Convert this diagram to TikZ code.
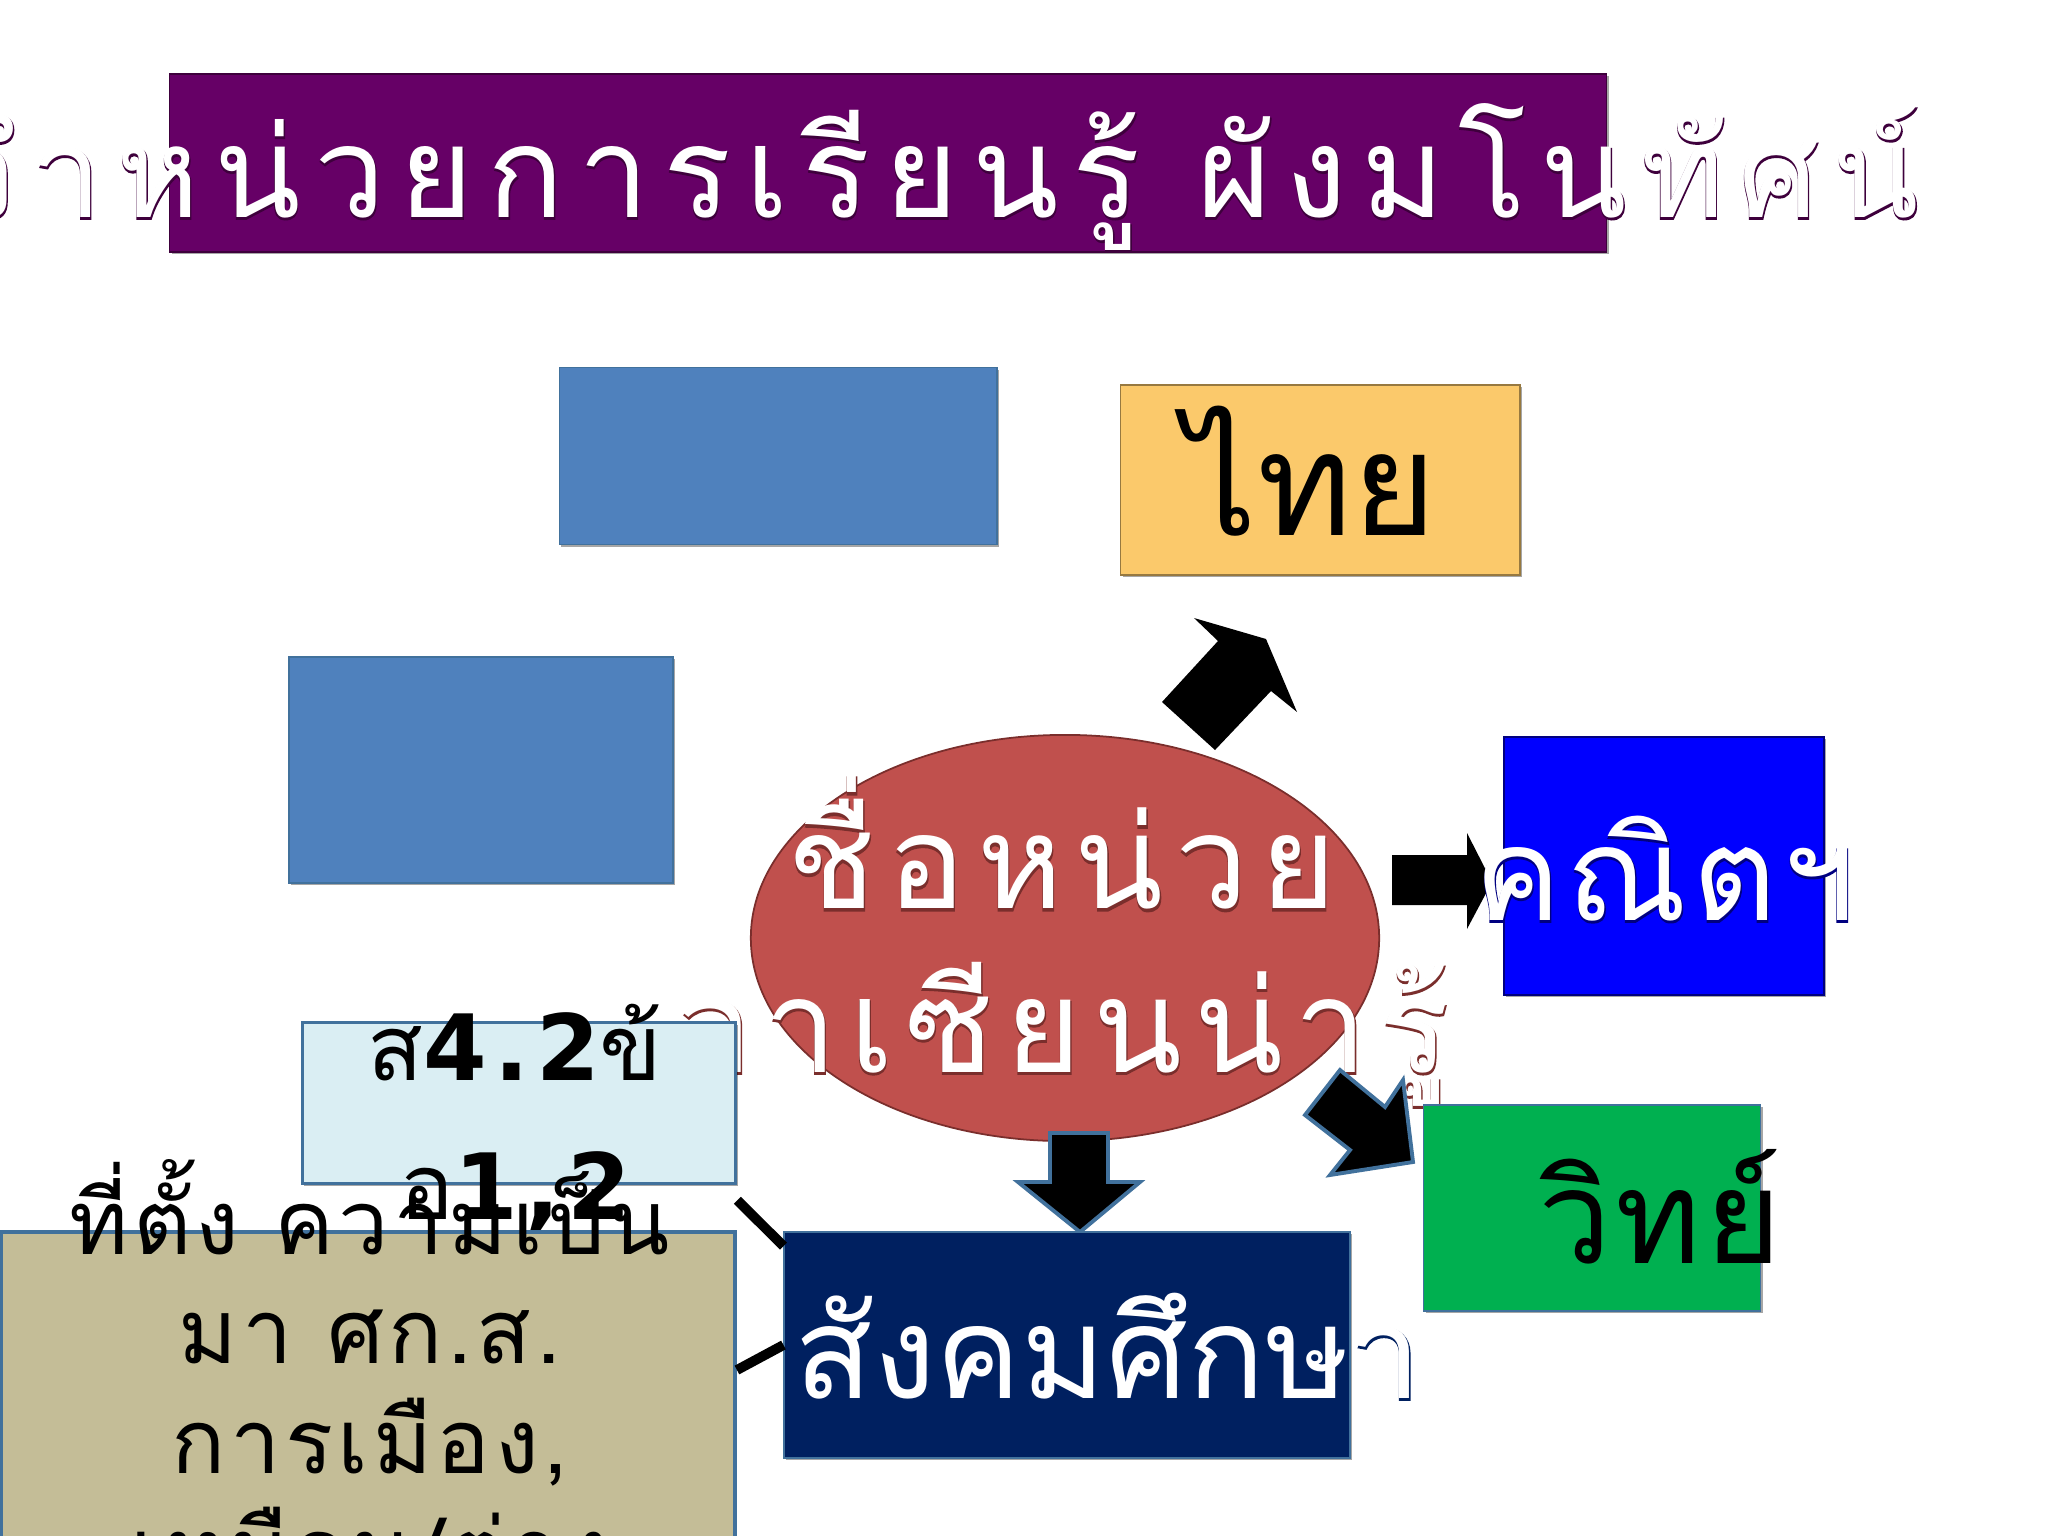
\documentclass[tikz,border=0pt]{standalone}
\usepackage{fontspec}
\newfontfamily\thai[Script=Thai]{Loma}
\newfontfamily\thaish[Script=Thai,FakeBold=1.2]{Loma}
\newfontfamily\digits{DejaVu Sans}
\usetikzlibrary{shapes.geometric,shadows}

\definecolor{plum}{HTML}{660066}
\definecolor{plumdark}{HTML}{3E003C}
\definecolor{steel}{HTML}{4F81BD}
\definecolor{steeledge}{HTML}{41719C}
\definecolor{sand}{HTML}{FBC96B}
\definecolor{brick}{HTML}{C0504D}
\definecolor{brickdark}{HTML}{7A2E2C}
\definecolor{pureblue}{HTML}{0000FF}
\definecolor{bluedark}{HTML}{000080}
\definecolor{leaf}{HTML}{00B050}
\definecolor{navy}{HTML}{002060}
\definecolor{ice}{HTML}{DAEEF3}
\definecolor{khaki}{HTML}{C4BD97}

\tikzset{
  box/.style={draw=#1, line width=0.5pt, inner sep=0pt,
    drop shadow={shadow xshift=0.6pt, shadow yshift=-0.6pt, opacity=0.35, fill=black}},
  txt/.style n args={4}{font=#1\fontsize{#2}{#3}\selectfont\addfontfeature{LetterSpace=#4},
    inner sep=0pt, align=center},
  sh/.style={text=#1, yshift=-0.6pt},
  blockarrow/.style={fill=black, draw=steeledge, line width=1.1pt, line join=miter}
}

\begin{document}
\begin{tikzpicture}[x=0.01cm, y=-0.01cm]
\useasboundingbox (0,0) rectangle (2048,1536);
\clip (0,0) rectangle (2048,1536);
\fill[white] (0,0) rectangle (2048,1536);

% title
\node[box=plumdark, fill=plum, minimum width=14.36cm, minimum height=1.78cm] (titlebox) at (888,163) {};
\node[txt={\thaish}{36pt}{44pt}{11}, sh=plumdark, anchor=base east] (titlesh) at (1920,217) {ประจำหน่วยการเรียนรู้ ผังมโนทัศน์};
\node[txt={\thai}{36pt}{44pt}{11}, text=white, anchor=base east] (title) at (1920,217) {ประจำหน่วยการเรียนรู้ ผังมโนทัศน์};

% empty boxes
\node[box=steeledge, fill=steel, minimum width=4.37cm, minimum height=1.77cm] (boxa) at (778,456) {};
\node[box=steeledge, fill=steel, minimum width=3.84cm, minimum height=2.26cm] (boxb) at (481,770) {};

% thai
\node[box=sand!60!black, fill=sand, minimum width=3.99cm, minimum height=1.90cm] (thaibox) at (1320,480) {};
\node[txt={\thai}{41pt}{48pt}{0}, anchor=base west] (thai) at (1184,535) {ไทย};
\fill (1162,702) -- (1218,641) -- (1194,618) -- (1266,639) -- (1297,712) -- (1271,691) -- (1215,750) -- cycle;

% unit
\node[ellipse, draw=brickdark, line width=0.5pt, fill=brick, minimum width=6.28cm, minimum height=4.06cm, inner sep=0pt] (unit) at (1065,938) {};
\node[txt={\thaish}{37pt}{46.4pt}{9}, sh=brickdark, anchor=base] (unitsh) at (1062,1072) {ชื่อหน่วย\\อาเซียนน่ารู้};
\node[txt={\thai}{37pt}{46.4pt}{9}, text=white, anchor=base] (unittxt) at (1062,1072) {ชื่อหน่วย\\อาเซียนน่ารู้};

% math
\fill (1392,855) -- (1467,855) -- (1467,833) -- (1492,882) -- (1467,929) -- (1467,905) -- (1392,905) -- cycle;
\node[box=bluedark, fill=pureblue, minimum width=3.20cm, minimum height=2.58cm] (mathbox) at (1664,866) {};
\node[txt={\thaish}{37pt}{44pt}{4}, sh=bluedark, anchor=base] (mathsh) at (1665,920) {คณิตฯ};
\node[txt={\thai}{37pt}{44pt}{4}, text=white, anchor=base] (math) at (1665,920) {คณิตฯ};

% science
\node[box=steeledge, fill=leaf, minimum width=3.37cm, minimum height=2.06cm] (scibox) at (1592,1208) {};
\node[txt={\thai}{37pt}{44pt}{3}, anchor=base west] (sci) at (1538,1263) {วิทย์};
\draw[blockarrow] (1305,1115) -- (1340,1070) -- (1385,1107) -- (1403,1080) -- (1413,1162) -- (1330,1175) -- (1350,1150) -- cycle;

% social studies
\draw[blockarrow] (1050,1133) -- (1108,1133) -- (1108,1182) -- (1140,1182) -- (1080,1232) -- (1018,1182) -- (1050,1182) -- cycle;
\node[box=steeledge, fill=navy, minimum width=5.65cm, minimum height=2.26cm] (socbox) at (1067,1345) {};
\node[txt={\thaish}{36.5pt}{44pt}{0}, sh=navy, anchor=base west] (socsh) at (794,1398) {สังคมศึกษา};
\node[txt={\thai}{36.5pt}{44pt}{0}, text=white, anchor=base west] (soc) at (794,1398) {สังคมศึกษา};

% standard
\node[box=steeledge, fill=ice, line width=1pt, minimum width=4.33cm, minimum height=1.61cm] (stdbox) at (519,1103) {};
\node[txt={\thai}{26pt}{39.5pt}{8}, anchor=base] (std) at (515,1219) {ส{\digits\bfseries\addfontfeature{LetterSpace=8}4.2}ข้\\อ{\digits\bfseries\addfontfeature{LetterSpace=8}1,2}};

% content
\node[box=steeledge, fill=khaki, line width=1pt, minimum width=7.34cm, minimum height=3.20cm] (topicbox) at (368,1392) {};
\node[txt={\thai}{25.5pt}{31pt}{5}, anchor=base] (topic) at (370,1582) {ที่ตั้ง ความเป็น\\มา ศก.ส.\\การเมือง,\\เหมือน/ต่าง};

\draw[line width=2.8pt] ([yshift=-0.15cm]stdbox.south east) -- ([yshift=-0.15cm]socbox.north west);
\draw[line width=2.8pt] ([yshift=0.22cm]topicbox.east) -- (socbox.west);
\end{tikzpicture}
\end{document}
